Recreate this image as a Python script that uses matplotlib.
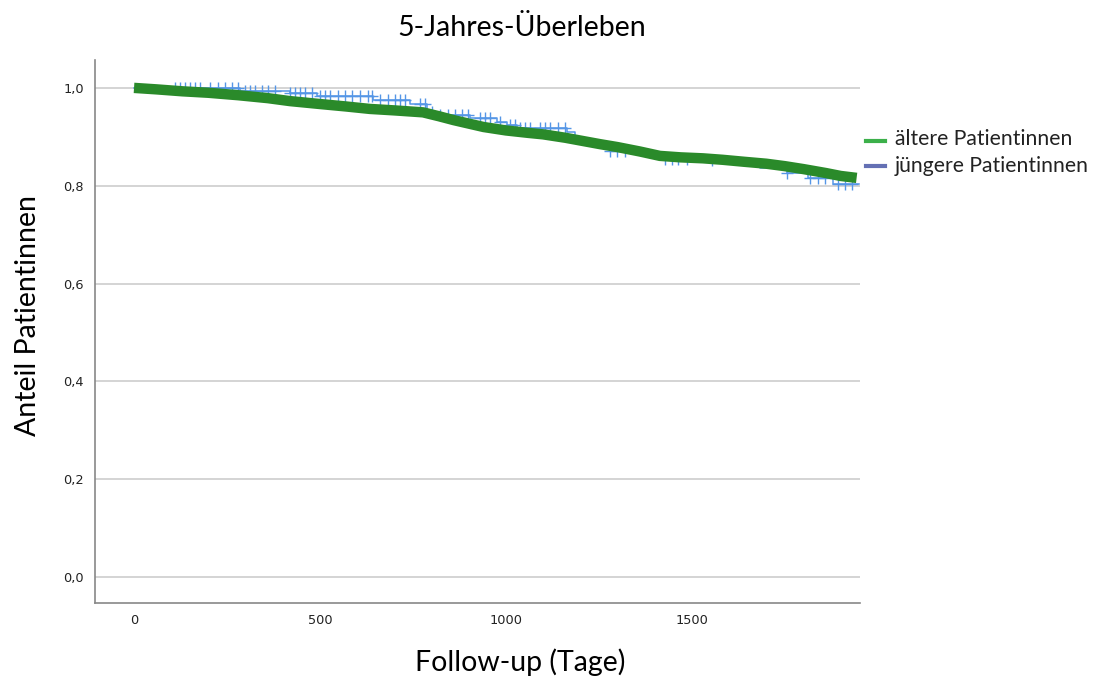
import numpy as np
import matplotlib.pyplot as plt
from matplotlib.lines import Line2D

# Kaplan-Meier curves
aeltere_t = [0, 60, 130, 200, 280, 360, 419, 500, 570, 634, 700, 777, 820, 860,
             900, 940, 1000, 1060, 1100, 1160, 1210, 1253, 1300, 1360, 1414,
             1470, 1530, 1583, 1640, 1700, 1750, 1800, 1860, 1900, 1943]
aeltere_s = [1.0, 0.997, 0.993, 0.99, 0.985, 0.979, 0.973, 0.967, 0.962, 0.957,
             0.954, 0.950, 0.942, 0.934, 0.927, 0.920, 0.913, 0.908, 0.905,
             0.898, 0.891, 0.885, 0.879, 0.870, 0.861, 0.858, 0.856, 0.853,
             0.849, 0.845, 0.840, 0.834, 0.826, 0.820, 0.816]

juengere_t = [0, 285, 419, 492, 642, 742, 788, 815, 903, 976, 1003, 1030, 1164,
              1185, 1280, 1400, 1495, 1575, 1683, 1755, 1812, 1879, 1950]
juengere_s = [1.0, 0.994, 0.99, 0.984, 0.975, 0.968, 0.951, 0.945, 0.939, 0.930,
              0.924, 0.918, 0.910, 0.890, 0.870, 0.855, 0.852, 0.848, 0.836,
              0.826, 0.816, 0.804, 0.804]

# censored cases (jüngere Patientinnen)
juengere_zensiert = [110, 123, 137, 150, 164, 177, 204, 226, 245, 263, 279, 298,
                     312, 325, 344, 360, 379, 419, 433, 446, 460, 478, 500, 513,
                     527, 548, 567, 586, 608, 629, 640, 661, 683, 702, 715, 728,
                     769, 782, 801, 823, 844, 863, 882, 898, 930, 944, 957, 984,
                     1011, 1024, 1038, 1051, 1065, 1092, 1105, 1118, 1140, 1159,
                     1280, 1298, 1320, 1427, 1446, 1462, 1486, 1553, 1755, 1817,
                     1838, 1857, 1892, 1911, 1930]

xticks = [0, 500, 1000, 1500]
yticks = [0.0, 0.2, 0.4, 0.6, 0.8, 1.0]
ytick_labels = ["0,0", "0,2", "0,4", "0,6", "0,8", "1,0"]


def step_value(times, surv, t):
    idx = np.searchsorted(times, t, side="right") - 1
    return np.asarray(surv)[idx]


fig = plt.figure(figsize=(10.93, 6.78), dpi=100)
ax = fig.add_axes([0.0869, 0.1106, 0.6999, 0.8009])

for y in yticks:
    ax.axhline(y, color="#d4d4d4", linewidth=1.4, zorder=0)

# blue group: thin step line + censor marks
ax.step(juengere_t, juengere_s, where="post", color="#5596e6", linewidth=1.1, zorder=2)
cz = np.array(juengere_zensiert)
ax.plot(cz, step_value(juengere_t, juengere_s, cz), linestyle="none", marker="+",
        markersize=8, markeredgewidth=1.0, color="#5596e6", zorder=2)

# green group: many small steps + dense censor marks -> thick band
ax.plot(aeltere_t, aeltere_s, color="#2a8a2a", linewidth=7.5,
        solid_capstyle="butt", zorder=3)

ax.set_xlim(-105, 1952)
ax.set_ylim(-0.053, 1.057)
ax.set_xticks(xticks)
ax.set_xticklabels([str(v) for v in xticks])
ax.set_yticks(yticks)
ax.set_yticklabels(ytick_labels)
ax.tick_params(length=0, labelsize=9.3, colors="#222222", pad=8)

for side in ["top", "right"]:
    ax.spines[side].set_visible(False)
for side in ["left", "bottom"]:
    ax.spines[side].set_color("#888888")
    ax.spines[side].set_linewidth(1.2)

ax.set_xlabel("Follow-up (Tage)", fontsize=20.5, family="Lato", va="center")
ax.xaxis.set_label_coords((520 - 95) / 765, (603 - 662) / 543)
ax.set_ylabel("Anteil Patientinnen", fontsize=20.5, family="Lato", va="center")
ax.yaxis.set_label_coords((28 - 95) / 765, 0.53)
fig.text(0.477, 0.958, "5-Jahres-Überleben", fontsize=20.5, family="Lato",
         ha="center", va="center")

# legend
fig.add_artist(Line2D([866 / 1093, 885 / 1093], [0.792, 0.792], color="#3cb04a",
                      linewidth=3, transform=fig.transFigure))
fig.add_artist(Line2D([866 / 1093, 885 / 1093], [0.755, 0.755], color="#6470b4",
                      linewidth=3, transform=fig.transFigure))
fig.text(895 / 1093, 0.795, "ältere Patientinnen", fontsize=15.2, family="Lato",
         va="center", color="#222222")
fig.text(895 / 1093, 0.755, "jüngere Patientinnen", fontsize=15.2, family="Lato",
         va="center", color="#222222")

fig.savefig("out.png", dpi=100)
